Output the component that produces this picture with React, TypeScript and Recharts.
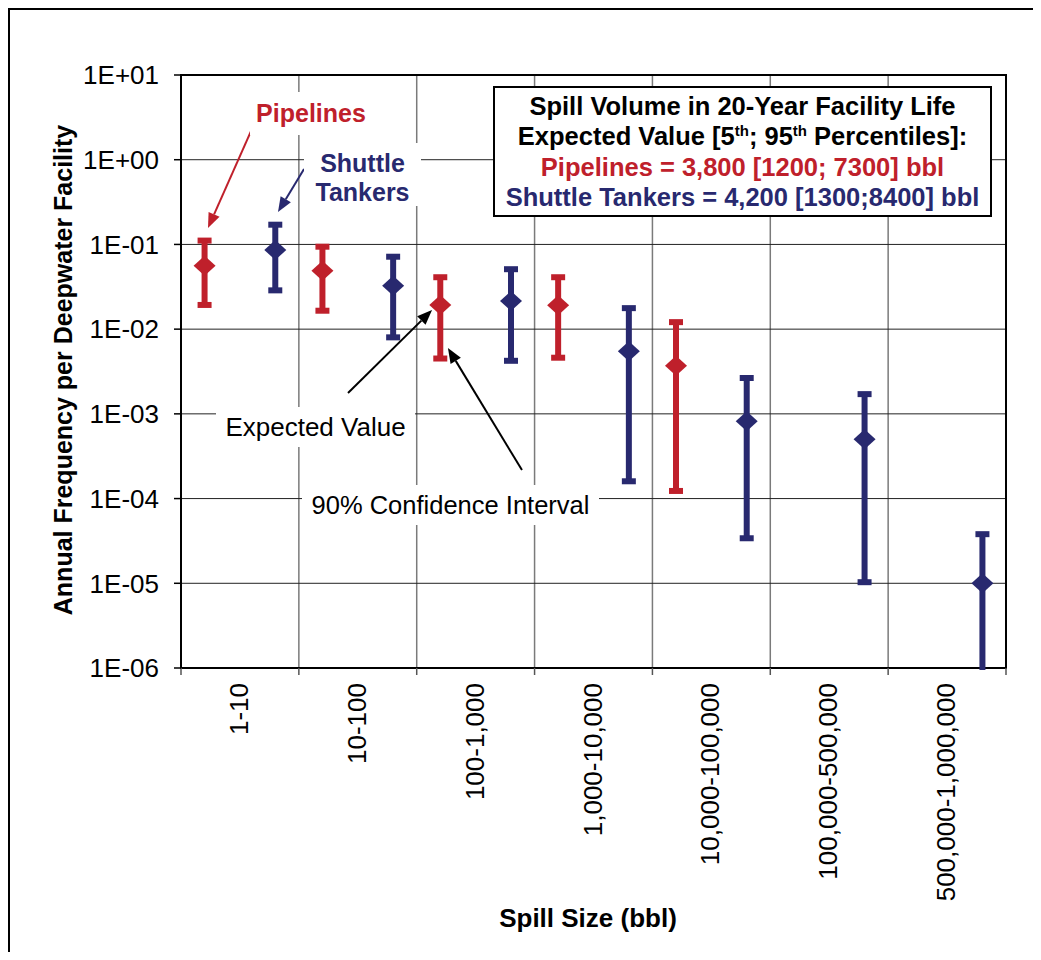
import React from 'react';
import {
  ComposedChart,
  Scatter,
  XAxis,
  YAxis,
  CartesianGrid,
  ErrorBar,
  ReferenceLine,
  ReferenceArea,
} from 'recharts';

const categories = [
  '1-10',
  '10-100',
  '100-1,000',
  '1,000-10,000',
  '10,000-100,000',
  '100,000-500,000',
  '500,000-1,000,000',
];

// Pipelines: expected value and 90% interval (5th / 95th percentiles)
const pipelineExpected = [0.056, 0.049, 0.0193, 0.0192, 0.0037, null, null];
const pipelineP5 = [0.0193, 0.0165, 0.0045, 0.0046, 0.000123, null, null];
const pipelineP95 = [0.111, 0.094, 0.041, 0.041, 0.0121, null, null];

// Shuttle tankers
const shuttleExpected = [0.086, 0.0326, 0.0215, 0.0055, 0.00082, 0.0005, 0.00001];
const shuttleP5 = [0.0287, 0.008, 0.00423, 0.00016, 0.000034, 0.0000103, 0.0000005];
const shuttleP95 = [0.171, 0.0716, 0.051, 0.0177, 0.00265, 0.00171, 0.000038];

const yTicks = [1e-6, 1e-5, 1e-4, 1e-3, 1e-2, 1e-1, 1, 10];
const boundaryTicks = [0, 1, 2, 3, 4, 5, 6, 7];

const RED = '#BF202B';
const BLUE = '#28296F';

// where each series sits inside its category band
const PIPE_OFFSET = 0.2;
const SHUTTLE_OFFSET = 0.8;

// annotation arrows, in data units (x in category bands, y on the log axis)
const arrows = [
  { from: [0.594, 2.18], to: [0.229, 0.156], color: RED },
  { from: [1.044, 0.776], to: [0.823, 0.241], color: BLUE },
  { from: [1.417, 0.00176], to: [2.13, 0.0168], color: '#000' },
  { from: [2.893, 0.000217], to: [2.265, 0.00598], color: '#000' },
];

type Row = { x: number; y: number; err: [number, number] };

function buildSeries(ev: (number | null)[], lo: (number | null)[], hi: (number | null)[], offset: number): Row[] {
  const rows: Row[] = [];
  categories.forEach((_, i) => {
    const v = ev[i];
    const l = lo[i];
    const h = hi[i];
    if (v == null || l == null || h == null) return;
    rows.push({ x: i + offset, y: v, err: [v - l, h - v] });
  });
  return rows;
}

const pipelineData = buildSeries(pipelineExpected, pipelineP5, pipelineP95, PIPE_OFFSET);
const shuttleData = buildSeries(shuttleExpected, shuttleP5, shuttleP95, SHUTTLE_OFFSET);

const formatPow = (v: number) => {
  const e = Math.round(Math.log10(v));
  const sign = e < 0 ? '-' : '+';
  return `1E${sign}${String(Math.abs(e)).padStart(2, '0')}`;
};

const diamond = (color: string) => (props: any) => {
  const { cx, cy } = props;
  if (cx == null || cy == null) return <g />;
  return (
    <polygon
      points={`${cx},${cy - 10} ${cx + 11},${cy} ${cx},${cy + 10} ${cx - 11},${cy}`}
      fill={color}
    />
  );
};

const arrowShape = (color: string) => (props: any) => {
  const { x1, y1, x2, y2 } = props;
  const ang = Math.atan2(y2 - y1, x2 - x1);
  const len = 15;
  const half = 6;
  const bx = x2 - len * Math.cos(ang);
  const by = y2 - len * Math.sin(ang);
  const px = -Math.sin(ang) * half;
  const py = Math.cos(ang) * half;
  return (
    <g>
      <line x1={x1} y1={y1} x2={bx} y2={by} stroke={color} strokeWidth={2} />
      <polygon points={`${x2},${y2} ${bx + px},${by + py} ${bx - px},${by - py}`} fill={color} />
    </g>
  );
};

// ticks sit on the band boundaries; each label is drawn in the middle of the band to its right
const CategoryTick = (props: any) => {
  const { x, y, payload, width } = props;
  const i = Math.round(payload.value);
  if (i >= categories.length) return <g />;
  const half = (Number(width) || 825) / categories.length / 2;
  const cx = x + half - 1;
  return (
    <text
      x={cx}
      y={y}
      transform={`rotate(-90, ${cx}, ${y})`}
      textAnchor="end"
      dy="0.35em"
      fontSize={26}
      fill="#000"
    >
      {categories[i]}
    </text>
  );
};

const box: React.CSSProperties = {
  position: 'absolute',
  background: '#fff',
  textAlign: 'center',
  whiteSpace: 'nowrap',
  boxSizing: 'border-box',
};

export default function App() {
  return (
    <div
      style={{
        position: 'relative',
        width: 1025,
        height: 944,
        fontFamily: '"Liberation Sans", Arial, sans-serif',
        color: '#000',
      }}
    >
      <div
        style={{
          position: 'absolute',
          left: 0,
          top: 0,
          width: 1033,
          height: 952,
          borderTop: '2px solid #000',
          borderLeft: '2px solid #000',
          boxSizing: 'border-box',
        }}
      />
      <ComposedChart width={1025} height={944} margin={{ top: 67, right: 27, bottom: 84, left: 73 }}>
        <CartesianGrid horizontal={false} stroke="#7a7a7a" strokeWidth={1.5} />
        <CartesianGrid vertical={false} stroke="#222" strokeWidth={1} />
        <XAxis
          type="number"
          dataKey="x"
          domain={[0, 7]}
          ticks={boundaryTicks}
          interval={0}
          tick={<CategoryTick />}
          tickSize={7}
          tickMargin={8}
          tickLine={{ stroke: '#555', strokeWidth: 1.5 }}
          axisLine={false}
          height={200}
        />
        <YAxis
          type="number"
          dataKey="y"
          scale="log"
          domain={[1e-6, 10]}
          allowDataOverflow
          ticks={yTicks}
          interval={0}
          tickFormatter={formatPow}
          tick={{ fontSize: 26, fill: '#000' }}
          tickSize={7}
          tickMargin={15}
          tickLine={{ stroke: '#000', strokeWidth: 1.5 }}
          axisLine={{ stroke: '#000', strokeWidth: 2 }}
          width={100}
        />
        <ReferenceArea x1={0} x2={7} y1={1e-6} y2={10} fill="none" fillOpacity={0} stroke="#000" strokeWidth={2} />
        <Scatter data={pipelineData} shape={diamond(RED)} isAnimationActive={false}>
          <ErrorBar dataKey="err" direction="y" width={7} strokeWidth={6} stroke={RED} isAnimationActive={false} />
        </Scatter>
        <Scatter data={shuttleData} shape={diamond(BLUE)} isAnimationActive={false}>
          <ErrorBar dataKey="err" direction="y" width={7} strokeWidth={6} stroke={BLUE} isAnimationActive={false} />
        </Scatter>
        {arrows.map((a, i) => (
          <ReferenceLine
            key={i}
            segment={[
              { x: a.from[0], y: a.from[1] },
              { x: a.to[0], y: a.to[1] },
            ]}
            shape={arrowShape(a.color)}
          />
        ))}
      </ComposedChart>

      {/* the last interval runs off the bottom of the plot: mask the overflow */}
      <div style={{ position: 'absolute', left: 962, top: 662, width: 34, height: 32, background: '#fff' }} />

      {/* annotation labels */}
      <div style={{ ...box, left: 242, top: 84, width: 122, height: 43, lineHeight: '43px', color: RED, fontWeight: 700, fontSize: 25 }}>
        Pipelines
      </div>
      <div style={{ ...box, left: 296, top: 135, width: 117, height: 63, paddingTop: 6, lineHeight: '29px', color: BLUE, fontWeight: 700, fontSize: 25 }}>
        Shuttle
        <br />
        Tankers
      </div>
      <div style={{ ...box, left: 208, top: 399, width: 199, height: 40, lineHeight: '40px', fontSize: 26 }}>
        Expected Value
      </div>
      <div style={{ ...box, left: 294, top: 477, width: 297, height: 40, lineHeight: '40px', fontSize: 25.5 }}>
        90% Confidence Interval
      </div>

      {/* summary box */}
      <div
        style={{
          ...box,
          left: 485,
          top: 78,
          width: 499,
          height: 131,
          border: '2px solid #000',
          display: 'flex',
          flexDirection: 'column',
          justifyContent: 'center',
          fontWeight: 700,
          fontSize: 25.5,
          lineHeight: '30.5px',
        }}
      >
        <div>Spill Volume in 20-Year Facility Life</div>
        <div>
          Expected Value [5<sup style={{ fontSize: 15, lineHeight: 0 }}>th</sup>; 95
          <sup style={{ fontSize: 15, lineHeight: 0 }}>th</sup> Percentiles]:
        </div>
        <div style={{ color: RED }}>Pipelines = 3,800 [1200; 7300] bbl</div>
        <div style={{ color: BLUE }}>Shuttle Tankers = 4,200 [1300;8400] bbl</div>
      </div>

      {/* axis titles */}
      <div
        style={{
          position: 'absolute',
          left: 54.5,
          top: 362,
          transform: 'translate(-50%, -50%) rotate(-90deg)',
          whiteSpace: 'nowrap',
          fontWeight: 700,
          fontSize: 25,
        }}
      >
        Annual Frequency per Deepwater Facility
      </div>
      <div
        style={{
          position: 'absolute',
          left: 580,
          top: 910,
          transform: 'translate(-50%, -50%)',
          whiteSpace: 'nowrap',
          fontWeight: 700,
          fontSize: 26,
        }}
      >
        Spill Size (bbl)
      </div>
    </div>
  );
}
